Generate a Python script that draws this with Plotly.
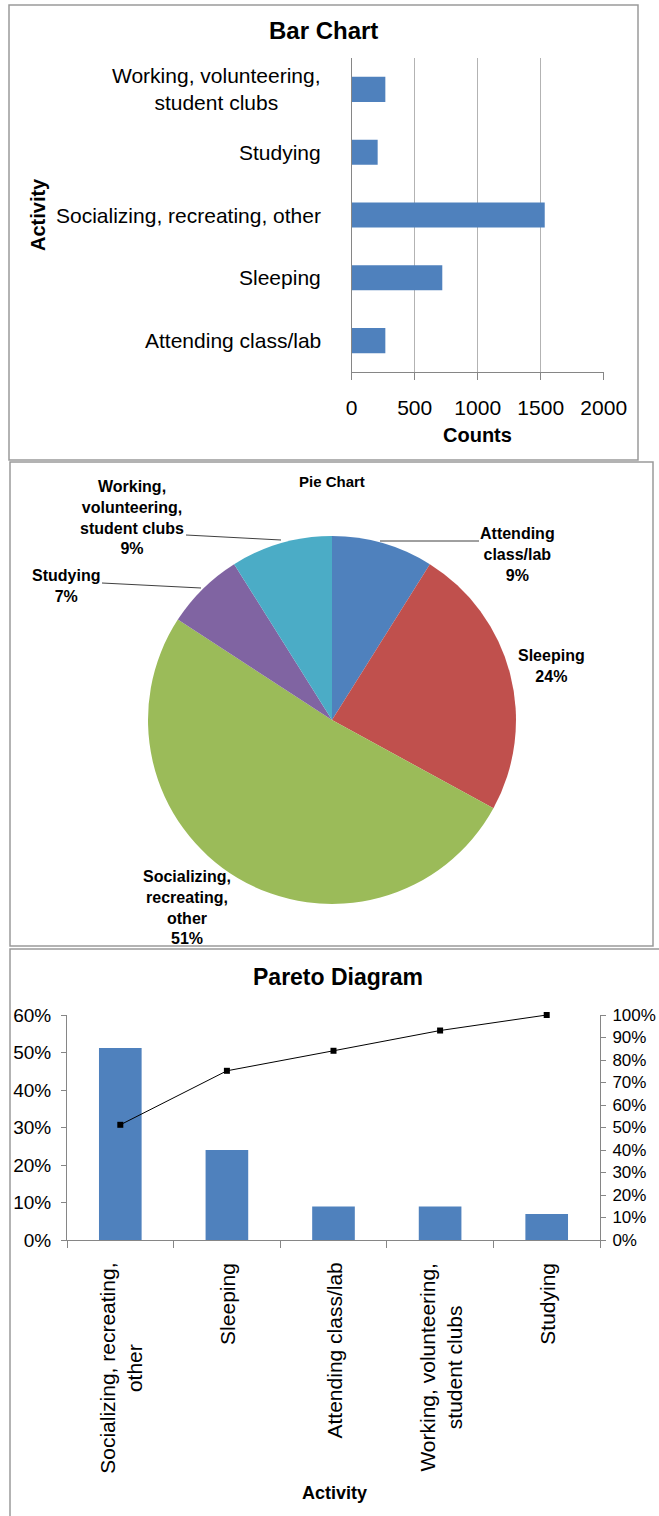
import plotly.graph_objects as go

W, H = 659, 1516

# data
activities = ['Attending class/lab', 'Sleeping', 'Socializing, recreating, other',
              'Studying', 'Working, volunteering, student clubs']
bar_ticks = ['Attending class/lab', 'Sleeping', 'Socializing, recreating, other',
             'Studying', 'Working, volunteering,<br>student clubs']
counts = [267, 719, 1532, 206, 267]

pareto_cats = ['Socializing, recreating, other', 'Sleeping', 'Attending class/lab',
               'Working, volunteering, student clubs', 'Studying']
pareto_ticks = ['Socializing, recreating,<br>other', 'Sleeping', 'Attending class/lab',
                'Working, volunteering,<br>student clubs', 'Studying']
pareto_pct = [0.512, 0.240, 0.089, 0.089, 0.069]
pareto_cum = [0.512, 0.752, 0.841, 0.931, 1.0]

pie_colors = ['#4F81BD', '#C0504D', '#9BBB59', '#8064A2', '#4BACC6']
BLUE = '#4F81BD'
AXIS = '#868686'
FONT = 'Liberation Sans, Arial, sans-serif'


def px(x):
    return x / W


def py(y):
    return 1 - y / H


fig = go.Figure()

# ---- bar chart
fig.add_trace(go.Bar(x=counts, y=activities, orientation='h', width=0.4,
                     marker=dict(color=BLUE, line=dict(width=0)),
                     xaxis='x', yaxis='y', showlegend=False))

# ---- pie chart
fig.add_trace(go.Pie(labels=activities, values=counts, sort=False,
                     direction='clockwise', rotation=0,
                     marker=dict(colors=pie_colors, line=dict(width=0)),
                     textinfo='none', showlegend=False,
                     domain=dict(x=[px(332 - 184), px(332 + 184)],
                                 y=[py(720 + 184), py(720 - 184)])))

# ---- pareto
fig.add_trace(go.Bar(x=pareto_cats, y=pareto_pct, width=0.4,
                     marker=dict(color=BLUE, line=dict(width=0)),
                     xaxis='x2', yaxis='y2', showlegend=False))
fig.add_trace(go.Scatter(x=pareto_cats, y=pareto_cum, mode='lines+markers',
                         line=dict(color='black', width=1),
                         marker=dict(symbol='square', size=6, color='black'),
                         cliponaxis=False,
                         xaxis='x2', yaxis='y3', showlegend=False))

fig.update_layout(
    width=W, height=H, margin=dict(l=0, r=0, t=0, b=0, autoexpand=False),
    paper_bgcolor='white', plot_bgcolor='white',
    font=dict(family=FONT, color='black', size=21),
    xaxis=dict(domain=[px(351.7), px(603.7)], range=[0, 2000], dtick=500,
               showgrid=True, gridcolor='#B3B3B3', gridwidth=1, zeroline=False,
               showline=True, linecolor=AXIS, ticks='outside', ticklen=7,
               tickcolor=AXIS, ticklabelstandoff=10, anchor='y',
               automargin=False, tickfont=dict(size=21)),
    yaxis=dict(domain=[py(372), py(58)], showline=True, linecolor=AXIS,
               showgrid=False, ticks='', showticklabels=False, anchor='x',
               range=[-0.5, 4.5], automargin=False),
    xaxis2=dict(domain=[px(67), px(600)], range=[-0.5, 4.5], anchor='y2',
                showline=True, linecolor=AXIS, showgrid=False,
                ticks='outside', tickson='boundaries', ticklen=7, tickcolor=AXIS,
                showticklabels=False, automargin=False),
    yaxis2=dict(domain=[py(1240), py(1015)], range=[0, 0.6], dtick=0.1,
                tickformat='.0%', showgrid=False, zeroline=False, anchor='x2',
                showline=True, linecolor=AXIS, ticks='outside', ticklen=5,
                tickcolor=AXIS, ticklabelstandoff=6, automargin=False,
                tickfont=dict(size=19)),
    yaxis3=dict(range=[0, 1], dtick=0.1, tickformat='.0%', overlaying='y2',
                side='right', anchor='x2', showgrid=False, zeroline=False,
                showline=True, linecolor=AXIS, ticks='outside', ticklen=5,
                tickcolor=AXIS, ticklabelstandoff=3, automargin=False,
                tickfont=dict(size=17)),
)

# category labels, centred lines like the original
for cat, lab in zip(activities, bar_ticks):
    fig.add_annotation(text=lab, x=px(323), y=cat, xref='paper', yref='y',
                       showarrow=False, align='center', xanchor='right',
                       yanchor='middle', font=dict(size=21))
for cat, lab in zip(pareto_cats, pareto_ticks):
    fig.add_annotation(text=lab, x=cat, y=py(1261), xref='x2', yref='paper',
                       showarrow=False, align='center', textangle=-90,
                       xanchor='center', yanchor='top', font=dict(size=21))

# panel frames
frames = [(9, 5, 638, 460), (10, 462, 653, 946), (10, 949, 700, 1530)]
for x0, y0, x1, y1 in frames:
    fig.add_shape(type='rect', xref='paper', yref='paper',
                  x0=px(x0), y0=py(y1), x1=px(x1), y1=py(y0),
                  line=dict(color='#9A9A9A', width=1.5), layer='below')

# titles
titles = [
    ('<b>Bar Chart</b>', 323, 30, 24, 0),
    ('<b>Counts</b>', 477, 435, 20, 0),
    ('<b>Activity</b>', 38, 215, 20, -90),
    ('<b>Pie Chart</b>', 332, 481, 15, 0),
    ('<b>Pareto Diagram</b>', 338, 977, 23, 0),
    ('<b>Activity</b>', 334, 1493, 18, 0),
]
for text, x, y, size, ang in titles:
    fig.add_annotation(text=text, x=px(x), y=py(y), xref='paper', yref='paper',
                       showarrow=False, textangle=ang, font=dict(size=size),
                       xanchor='center', yanchor='middle')

# pie labels
total = sum(counts)
pie_text = ['Attending<br>class/lab', 'Sleeping', 'Socializing,<br>recreating,<br>other',
            'Studying', 'Working,<br>volunteering,<br>student clubs']
pie_pos = [(517, 554), (551, 666), (187, 907), (66, 586), (132, 517)]
for lab, v, (x, y) in zip(pie_text, counts, pie_pos):
    fig.add_annotation(text='<b>%s<br>%d%%</b>' % (lab, round(100 * v / total)),
                       x=px(x), y=py(y), xref='paper', yref='paper',
                       showarrow=False, align='center', font=dict(size=16),
                       xanchor='center', yanchor='middle')

# leader lines
leaders = [(380, 541, 479, 541), (186, 535, 281, 540), (102, 583, 201, 588)]
for x0, y0, x1, y1 in leaders:
    fig.add_shape(type='line', xref='paper', yref='paper',
                  x0=px(x0), y0=py(y0), x1=px(x1), y1=py(y1),
                  line=dict(color='#404040', width=1))

# drop the default body margin so the figure fills the window exactly
fig.write_html("out.html", config={'displayModeBar': False},
               post_script="document.body.style.margin='0';")
